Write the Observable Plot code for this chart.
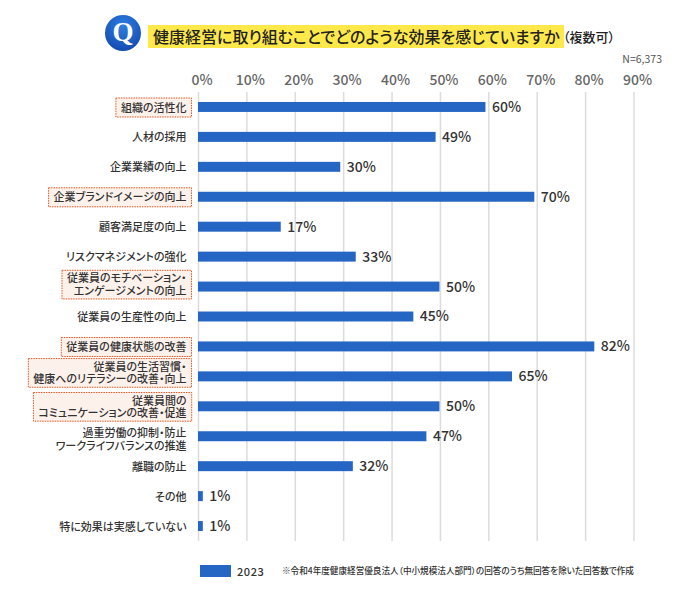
<!DOCTYPE html>
<html><head><meta charset="utf-8">
<script src="https://cdn.jsdelivr.net/npm/d3@7"></script>
<script src="https://cdn.jsdelivr.net/npm/@observablehq/plot@0.6"></script>
<style>
html,body{margin:0;padding:0;background:#fff;font-family:"Noto Sans CJK JP","Noto Sans",sans-serif;font-feature-settings:"palt";}
#wrap{width:700px;position:relative;}
#head{position:relative;height:72px;}
#q{position:absolute;left:105px;top:15px;width:36px;height:36px;border-radius:50%;background:radial-gradient(circle at 50% 30%,#2f7fe0,#0d3fa8);color:#fff;font:bold 27px/34px "Liberation Serif",serif;text-align:center;}
#title{position:absolute;left:148px;top:25px;height:23px;line-height:23px;background:#ffe94a;padding:0 4px 0 5px;font-size:16px;font-weight:500;color:#222;white-space:nowrap;}
#multi{position:absolute;left:563px;top:25px;line-height:23px;font-size:13px;font-weight:500;color:#222;white-space:nowrap;}
#n{position:absolute;right:38px;top:52px;font-size:10.5px;line-height:13px;color:#555;}
svg{display:block;font-feature-settings:"palt";}
#legend{position:relative;height:40px;}
#sw{position:absolute;left:200px;top:13px;width:31px;height:12px;background:#2566c4;}
#yr{position:absolute;left:237px;top:11px;font-size:11px;line-height:16px;font-weight:500;color:#333;letter-spacing:.6px;}
#note{position:absolute;left:282px;top:11px;font-size:8.6px;line-height:14px;font-weight:500;color:#333;white-space:nowrap;}
</style></head><body>
<div id="wrap">
<div id="head"><div id="q">Q</div><div id="title"></div><div id="multi"></div><div id="n"></div></div>
<div id="chart"></div>
<div id="legend"><div id="sw"></div><div id="yr"></div><div id="note"></div></div>
</div>
<script>
const titleText = "健康経営に取り組むことでどのような効果を感じていますか";
const multiText = "（複数可）";
const nText = "N=6,373";
const seriesName = "2023";
const noteText = "※令和4年度健康経営優良法人（中小規模法人部門）の回答のうち無回答を除いた回答数で作成";
const categories = [
  "組織の活性化","人材の採用","企業業績の向上","企業ブランドイメージの向上","顧客満足度の向上",
  "リスクマネジメントの強化","従業員のモチベーション・\nエンゲージメントの向上","従業員の生産性の向上",
  "従業員の健康状態の改善","従業員の生活習慣・\n健康へのリテラシーの改善・向上","従業員間の\nコミュニケーションの改善・促進",
  "過重労働の抑制・防止\nワークライフバランスの推進","離職の防止","その他","特に効果は実感していない"
];
const values = [59.4,49.1,29.4,69.5,17.1,32.6,49.9,44.5,81.9,64.9,49.9,47.2,32,1,1];
const valueLabels = ["60%","49%","30%","70%","17%","33%","50%","45%","82%","65%","50%","47%","32%","1%","1%"];
const highlighted = [0,3,6,8,9,10];
const labelShift = {6:-2.5, 9:-4, 11:2.5};
const xTicks = [0,10,20,30,40,50,60,70,80,90];
const rows = categories.map((c,i)=>({c,v:values[i],t:valueLabels[i]}));

document.getElementById("title").textContent = titleText;
document.getElementById("multi").textContent = multiText;
document.getElementById("n").textContent = nText;
document.getElementById("yr").textContent = seriesName;
document.getElementById("note").textContent = noteText;

const font = '"Noto Sans CJK JP","Noto Sans",sans-serif';
const plot = Plot.plot({
  width:700, height:480,
  marginLeft:198, marginRight:66.5, marginTop:20, marginBottom:11,
  style:{fontFamily:font, background:"#fff", overflow:"visible"},
  x:{domain:[0,90]},
  y:{domain:categories, paddingInner:0.667, paddingOuter:0.333, round:false, label:null},
  marks:[
    Plot.gridX(xTicks,{stroke:"#dcdcdc",strokeOpacity:1,strokeWidth:1.5}),
    Plot.barX(rows,{x:"v",y:"c",fill:"#2566c4"}),
    Plot.text(rows,{x:"v",y:"c",text:"t",textAnchor:"start",dx:6,fontSize:14,fontWeight:500,fill:"#333"}),
    Plot.axisX(xTicks,{anchor:"top",tickSize:0,tickPadding:8,dx:3.5,label:null,tickFormat:d=>d+"%",fontSize:14,fontWeight:500,fill:"#666"}),
    Plot.axisY({tickSize:0,tickPadding:12,label:null,fontSize:11,fontWeight:500,fill:"#333",lineHeight:1.15,lineWidth:40,marginLeft:198})
  ]
});
document.getElementById("chart").appendChild(plot);

// dotted boxes behind the highlighted category labels, sized from the text itself
const svg = plot.tagName.toLowerCase()==="svg"?plot:plot.querySelector("svg");
const labels = [...svg.querySelectorAll('g[aria-label="y-axis tick label"] text')];
labels.forEach((t,i)=>{
  if(labelShift[i]) t.setAttribute("transform",(t.getAttribute("transform")||"")+` translate(0,${labelShift[i]})`);
});
highlighted.forEach(i=>{
  const t = labels[i], b = t.getBBox();
  const multi = categories[i].includes("\n");
  const pad = multi ? 0 : 3;
  const r = document.createElementNS("http://www.w3.org/2000/svg","rect");
  const tf = t.getAttribute("transform");
  if(tf) r.setAttribute("transform",tf);
  r.setAttribute("x",b.x-5); r.setAttribute("y",b.y+1-pad/2);
  r.setAttribute("width",b.width+10); r.setAttribute("height",b.height+pad);
  r.setAttribute("fill","#fdf1ec"); r.setAttribute("stroke","#e8541e");
  r.setAttribute("stroke-width","1"); r.setAttribute("stroke-dasharray","1.5 1");
  t.parentNode.insertBefore(r,t);
});
</script>
</body></html>
